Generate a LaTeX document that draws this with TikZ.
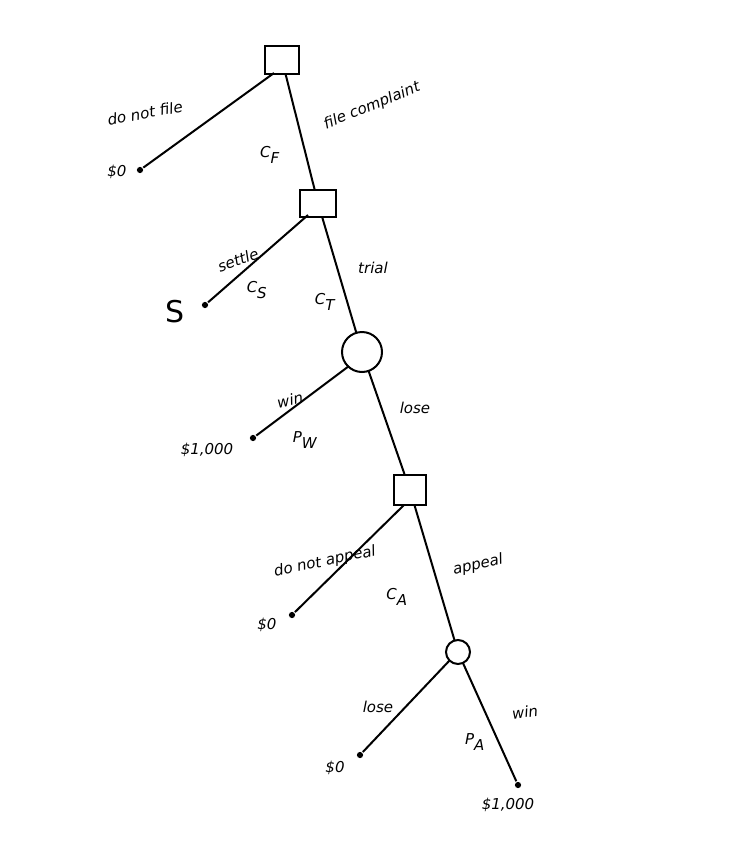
\documentclass[tikz,border=0pt]{standalone}
\usepackage{fontspec}
\setmainfont{DejaVu Sans}
\begin{document}
\begin{tikzpicture}[x=1pt,y=-1pt,line width=2pt,
  dec/.style={draw,fill=white,minimum width=34pt,minimum height=28pt,inner sep=0},
  chn/.style={draw,circle,fill=white,inner sep=0},
  leaf/.style={circle,fill=black,inner sep=2.2pt},
  lab/.style={font=\fontsize{15}{15}\selectfont\itshape}]
\useasboundingbox (0,0) rectangle (752,857);
\node[leaf] (e1) at (140,170) {};
\node[leaf] (e2) at (205,305) {};
\node[leaf] (e3) at (253,438) {};
\node[leaf] (e4) at (292,615) {};
\node[leaf] (e5) at (360,755) {};
\node[leaf] (e6) at (518,785) {};
\draw (282,60) -- (318,203);
\draw (318,203) -- (362,352);
\draw (362,352) -- (410,490);
\draw (410,490) -- (458,652);
\draw (458,652) -- (e6);
\node[dec] (d1) at (282,60) {};
\node[dec,minimum width=36pt,minimum height=27pt] (d2) at (318,203) {};
\node[chn,minimum size=40pt] (c1) at (362,352) {};
\node[dec,minimum width=32pt,minimum height=30pt] (d3) at (410,490) {};
\node[chn,minimum size=24pt] (c2) at (458,652) {};
\draw (d1) ++(-8,13) coordinate (a1) -- (e1);
\draw (d2) ++(-10,12) coordinate (a2) -- (e2);
\draw (c1) ++(-13,14) coordinate (a3) -- (e3);
\draw (d3) ++(-6,15) coordinate (a4) -- (e4);
\draw (c2) ++(-8,8) coordinate (a5) -- (e5);
\node[lab,rotate=10] (l1) at (145,113) {do not file};
\node[lab] (l2) at (117,172) {\$0};
\node[lab] (l3) at (270,155) {C$_{\textit{F}}$};
\node[lab,rotate=22] (l4) at (372,106) {file complaint};
\node[lab,rotate=20] (l5) at (238,260) {settle};
\node[lab] (l6) at (257,290) {C$_{\textit{S}}$};
\node[font=\fontsize{30}{30}\selectfont] (l7) at (175,312) {S};
\node[lab] (l8) at (373,268) {trial};
\node[lab] (l9) at (325,302) {C$_{\textit{T}}$};
\node[lab,rotate=12] (l10) at (290,400) {win};
\node[lab] (l11) at (305,440) {P$_{\textit{W}}$};
\node[lab] (l12) at (207,450) {\$1,000};
\node[lab] (l13) at (415,408) {lose};
\node[lab,rotate=12] (l14) at (325,562) {do not appeal};
\node[lab] (l15) at (267,625) {\$0};
\node[lab] (l16) at (397,597) {C$_{\textit{A}}$};
\node[lab,rotate=12] (l17) at (478,565) {appeal};
\node[lab] (l18) at (378,707) {lose};
\node[lab] (l19) at (335,768) {\$0};
\node[lab] (l20) at (475,742) {P$_{\textit{A}}$};
\node[lab,rotate=8] (l21) at (525,712) {win};
\node[lab] (l22) at (508,805) {\$1,000};
\end{tikzpicture}
\end{document}
